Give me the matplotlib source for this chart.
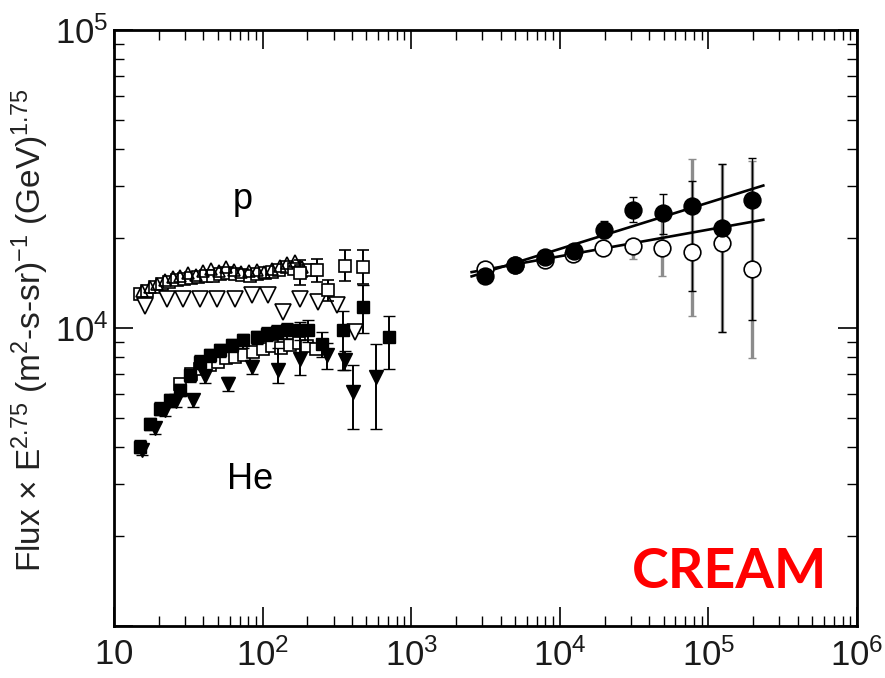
import numpy as np
import matplotlib.pyplot as plt
from matplotlib.ticker import FixedLocator, FixedFormatter, LogLocator, NullFormatter

plt.rcParams['font.family'] = ['Liberation Sans', 'DejaVu Sans']
plt.rcParams['mathtext.fontset'] = 'custom'
plt.rcParams['mathtext.rm'] = 'Liberation Sans Narrow'
plt.rcParams['mathtext.default'] = 'regular'

# ---- low energy protons (GeV, flux x E^2.75) ----
p_sq_e = [15, 16.8, 18.8, 21, 23.6, 26.4, 29.6, 33, 37, 41.5, 46.5, 52, 58, 65, 73,
          82, 92, 103, 115, 129, 145, 162, 182, 204]
p_sq_y = [13000, 13300, 13700, 14000, 14300, 14500, 14600, 14700, 14800, 14900, 15000,
          15200, 15300, 15200, 15100, 15000, 15200, 15300, 15400, 15600, 16000, 15800,
          15500, 15700]

p_tu_e = [15.5, 17.5, 19.6, 22, 25, 28, 31.5, 35.5, 40, 45, 51, 57, 64, 72, 81, 91,
          102, 115, 130, 146, 165, 185]
p_tu_y = [13300, 13700, 14100, 14500, 14800, 15000, 15300, 15100, 15500, 15800, 15500,
          16000, 15600, 15400, 15500, 15700, 15400, 15800, 16200, 16500, 16800, 16000]

p_td_e = [16.2, 22.6, 29.3, 37.9, 49.1, 65.2, 84.5, 109, 138, 178, 237, 315, 419]
p_td_y = [11810, 12540, 12540, 12540, 12540, 12540, 12860, 12860, 11290, 12540, 12220,
          11910, 9680]

p_hi_e = [178, 231, 277, 358, 476]
p_hi_y = [15300, 15600, 13360, 16200, 16000]
p_hi_lo = [13900, 14300, 12300, 14400, 14000]
p_hi_up = [16850, 17000, 14500, 18300, 18200]

# ---- low energy helium ----
he_sq_e = [15, 17.5, 20.4, 23.8, 27.8, 32.5, 37.9, 44.3, 51.7, 62, 74.2, 91.2, 106.6,
           125, 145, 178.5, 203, 250, 349, 476, 713]
he_sq_y = [3990, 4780, 5365, 5716, 6180, 6935, 7690, 8090, 8410, 8745, 9080, 9320, 9565,
           9700, 9815, 9815, 9815, 8860, 9815, 11740, 9320]
he_sq_lo = [3800, 4550, 5100, 5450, 5900, 6600, 7300, 7700, 8000, 8300, 8600, 8850, 9050,
            9150, 9200, 9100, 9000, 8000, 7200, 9600, 7300]
he_sq_up = [4200, 5000, 5650, 6000, 6500, 7300, 8100, 8500, 8850, 9200, 9550, 9800, 10100,
            10250, 10400, 10500, 10600, 9700, 11430, 13900, 11000]

he_td_e = [15.5, 18.9, 22, 26, 34.2, 41, 58.8, 85, 127.6, 178.5, 270, 358, 407, 580]
he_td_y = [3900, 4600, 5300, 5700, 5716, 6900, 6500, 7400, 7210, 7885, 8090, 7790, 6100, 6850]
he_td_lo = [3750, 4400, 5050, 5450, 5450, 6550, 6150, 7000, 6530, 6935, 7300, 7200, 4590, 4590]
he_td_up = [4050, 4800, 5550, 5950, 6000, 7250, 6850, 7800, 8600, 9815, 8900, 8400, 7500, 8870]

he_os_e = [28, 33, 38, 44, 50, 57, 65, 75, 86, 100, 115, 132, 152, 175, 200, 230]
he_os_y = [6500, 7000, 7300, 7500, 7700, 7900, 8000, 8100, 8300, 8500, 8700, 8600, 8800,
           8900, 8700, 8500]

# ---- CREAM high energy ----
cr_a_e = [3140, 5000, 7950, 12470, 19800, 31000, 49200, 77600, 123400, 195500]
cr_a_y = [15000, 16300, 17280, 18060, 21400, 24900, 24400, 25750, 21670, 26980]
cr_a_lo = [14500, 15800, 16700, 17400, 20000, 22650, 20700, 13300, 9690, 10600]
cr_a_up = [15500, 16800, 17900, 18700, 22940, 27470, 28200, 31230, 35600, 37300]

cr_b_e = [3140, 5000, 7950, 12300, 19600, 31000, 48600, 77600, 123400, 195500]
cr_b_y = [15800, 16300, 16850, 17740, 18540, 18820, 18580, 17950, 19300, 15800]
cr_b_lo = [15300, 15800, 16300, 17100, 17700, 17070, 15000, 11000, 9690, 7950]
cr_b_up = [16300, 16800, 17400, 18400, 19400, 19950, 23000, 37000, 35600, 36450]

fit_e = [2550, 234000]
fit_a = [14900, 30060]
fit_b = [15400, 23070]


def err(y, lo, up):
    y = np.array(y)
    return [y - np.array(lo), np.array(up) - y]


fig = plt.figure(figsize=(8.85, 6.78), dpi=100)
ax = fig.add_axes([0.1288, 0.0767, 0.8396, 0.8791])
ax.set_xscale('log')
ax.set_yscale('log')

k = dict(color='black', linestyle='none', mew=1.2)

# protons
ax.plot(p_sq_e, p_sq_y, marker='s', ms=8, mfc='white', **k)
ax.plot(p_tu_e, p_tu_y, marker='^', ms=8, mfc='none', **k)
ax.plot(p_td_e, p_td_y, marker='v', ms=11, mfc='white', **k)
ax.errorbar(p_hi_e, p_hi_y, yerr=err(p_hi_y, p_hi_lo, p_hi_up), fmt='s', ms=9,
            mfc='white', mec='black', ecolor='black', elinewidth=1.4, capsize=4, mew=1.2)

# helium
ax.plot(he_os_e, he_os_y, marker='s', ms=8, mfc='white', **k)
ax.errorbar(he_sq_e, he_sq_y, yerr=err(he_sq_y, he_sq_lo, he_sq_up), fmt='s', ms=9,
            color='black', ecolor='black', elinewidth=1.4, capsize=4)
ax.errorbar(he_td_e, he_td_y, yerr=err(he_td_y, he_td_lo, he_td_up), fmt='v', ms=10,
            color='black', ecolor='black', elinewidth=1.4, capsize=4)

# CREAM
ax.errorbar(cr_b_e, cr_b_y, yerr=err(cr_b_y, cr_b_lo, cr_b_up), fmt='none',
            ecolor='#8c8c8c', elinewidth=2.4, capsize=3)
ax.errorbar(cr_a_e, cr_a_y, yerr=err(cr_a_y, cr_a_lo, cr_a_up), fmt='none',
            ecolor='black', elinewidth=1.0, capsize=3)
ax.plot(fit_e, fit_a, color='black', lw=1.9)
ax.plot(fit_e, fit_b, color='black', lw=1.9)
ax.plot(cr_b_e, cr_b_y, marker='o', ms=12, mfc='white', **k)
ax.plot(cr_a_e, cr_a_y, marker='o', ms=12, mfc='black', **k)

ax.set_xlim(10, 1e6)
ax.set_ylim(1e3, 1e5)

ax.xaxis.set_major_locator(FixedLocator([1e1, 1e2, 1e3, 1e4, 1e5, 1e6]))
ax.xaxis.set_major_formatter(FixedFormatter(['$10$', '$10^2$', '$10^3$', '$10^4$', '$10^5$', '$10^6$']))
ax.yaxis.set_major_locator(FixedLocator([1e3, 1e4, 1e5]))
ax.yaxis.set_major_formatter(FixedFormatter(['', '$10^4$', '$10^5$']))
for a in (ax.xaxis, ax.yaxis):
    a.set_minor_locator(LogLocator(base=10, subs=np.arange(2, 10)))
    a.set_minor_formatter(NullFormatter())

ax.tick_params(which='both', direction='in', top=True, right=True, colors='black',
               labelcolor='#1a1a1a', labelsize=25)
ax.tick_params(which='major', length=13.5, width=1.2)
ax.tick_params(which='minor', length=7, width=1.0)
ax.tick_params(axis='x', which='major', pad=9)
ax.tick_params(axis='y', which='major', pad=4)
for s in ax.spines.values():
    s.set_linewidth(2)

ax.text(0.1736, 0.715, 'p', transform=ax.transAxes, ha='center', va='center', fontsize=26)
ax.text(0.183, 0.245, 'He', transform=ax.transAxes, ha='center', va='center', fontsize=26)
ax.text(0.829, 0.09, 'CREAM', transform=ax.transAxes, ha='center', va='center',
        fontsize=40, fontweight='bold', color='#ff0000', family=['Lato', 'DejaVu Sans'])

fig.text(0.034, 0.512, r'Flux $\times$ E$^{2.75}$ (m$^2$-s-sr)$^{-1}$ (GeV)$^{1.75}$',
         rotation=90, ha='center', va='center', fontsize=24, color='#222222')

fig.savefig('out.png', dpi=100)
